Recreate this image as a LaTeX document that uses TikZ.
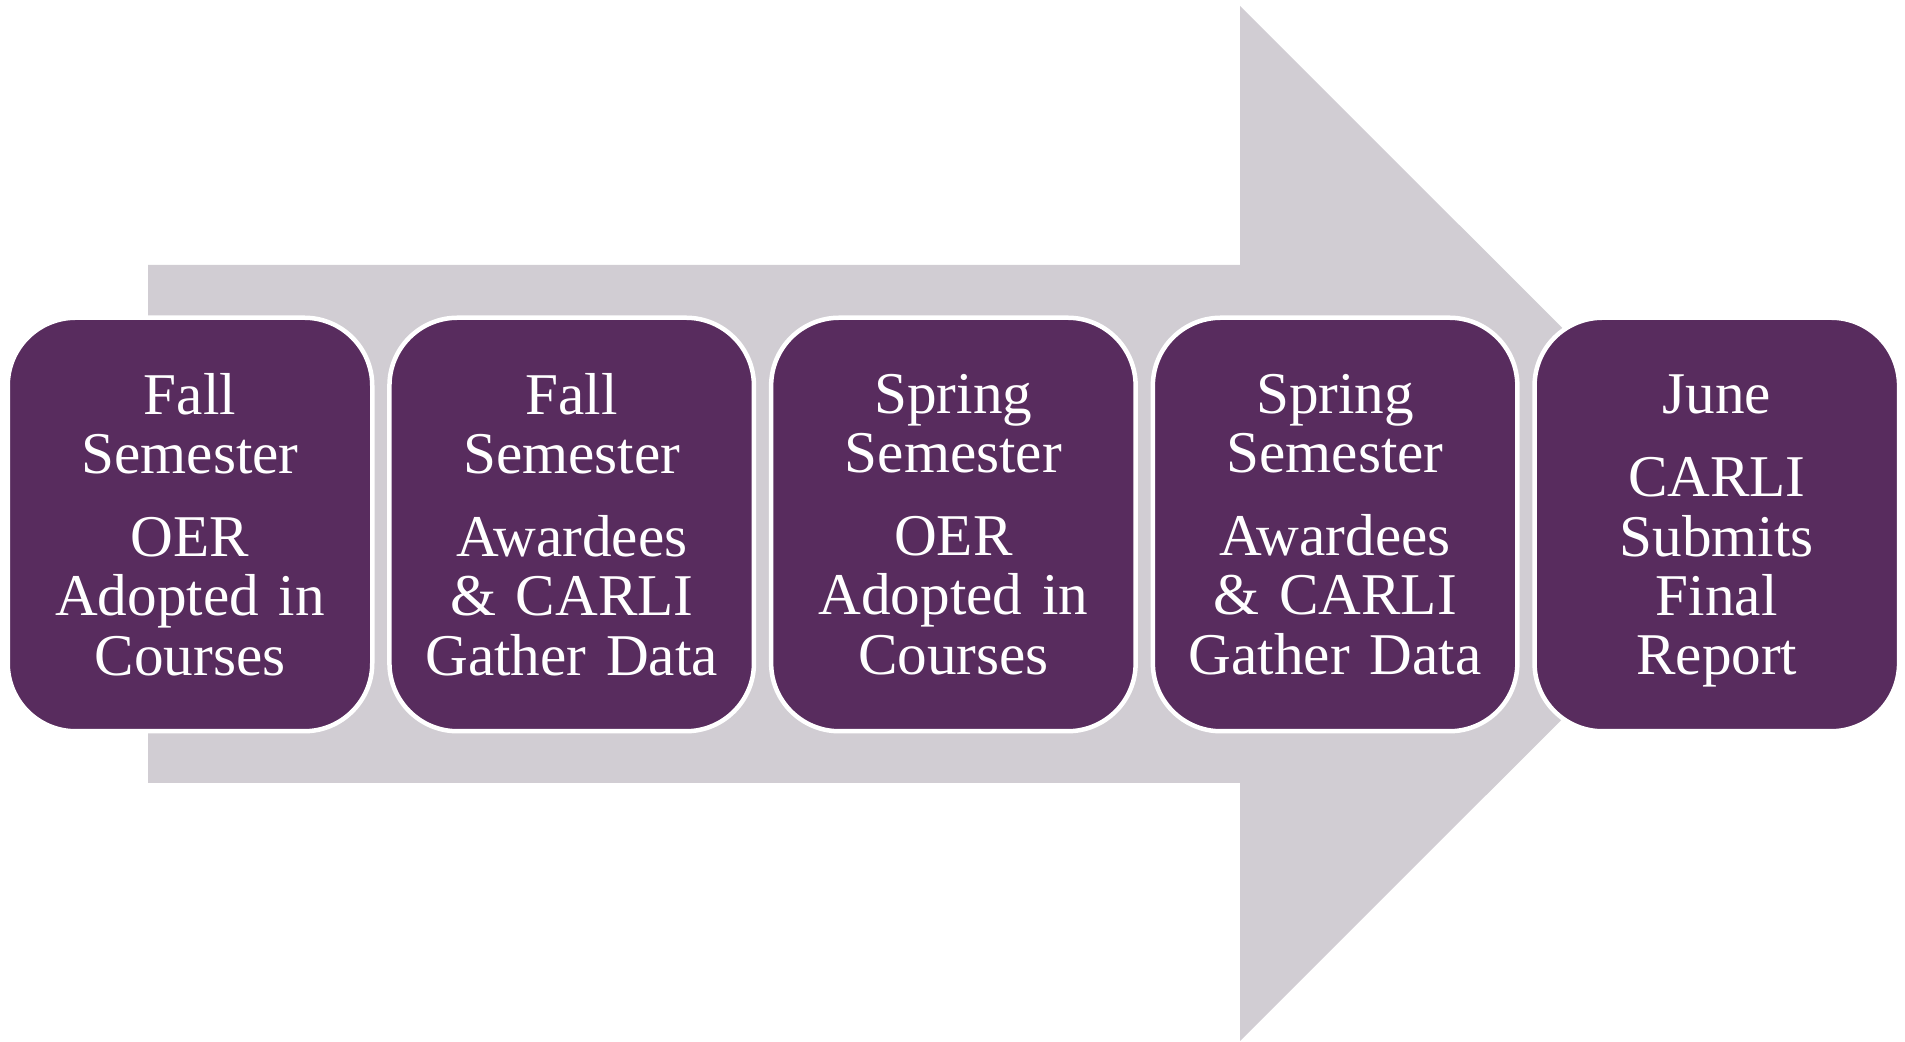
\documentclass[tikz,border=0pt]{standalone}
\usepackage{fontspec}
\setmainfont{Liberation Serif}
\usetikzlibrary{positioning}
\definecolor{stagepurple}{RGB}{88,44,94}
\definecolor{arrowgrey}{RGB}{209,205,211}

\begin{document}
\begin{tikzpicture}[x=0.5pt, y=0.5pt,
	stage/.style={rounded corners=34pt, fill=stagepurple, draw=white, line width=2.25pt,
		minimum width=182.25pt, minimum height=206.75pt, text width=170pt, align=center,
		text=white, font=\fontsize{29.6}{29.6}\selectfont, inner sep=0pt, outer sep=0pt},
	node distance=8.6pt]
	\useasboundingbox (0,0) rectangle (1905,1042);
	
	% big arrow behind the stages
	\fill[arrowgrey] (148,777) -- (1240,777) -- (1240,1036) -- (1758,518.5)
		-- (1240,1) -- (1240,259) -- (148,259) -- cycle;
	
	\node[stage] (fallOER) at (190,517.5) {Fall\\Semester\\[12pt]OER\\Adopted in\\Courses};
	\node[stage, right=of fallOER] (fallData) {Fall\\Semester\\[12pt]Awardees\\\& CARLI\\Gather Data};
	\node[stage, right=of fallData] (springOER) {Spring\\Semester\\[12pt]OER\\Adopted in\\Courses};
	\node[stage, right=of springOER] (springData) {Spring\\Semester\\[12pt]Awardees\\\& CARLI\\Gather Data};
	\node[stage, right=of springData] (juneReport) {\rule{0pt}{26pt}June\\[12pt]CARLI\\Submits\\Final\\Report};
\end{tikzpicture}
\end{document}
